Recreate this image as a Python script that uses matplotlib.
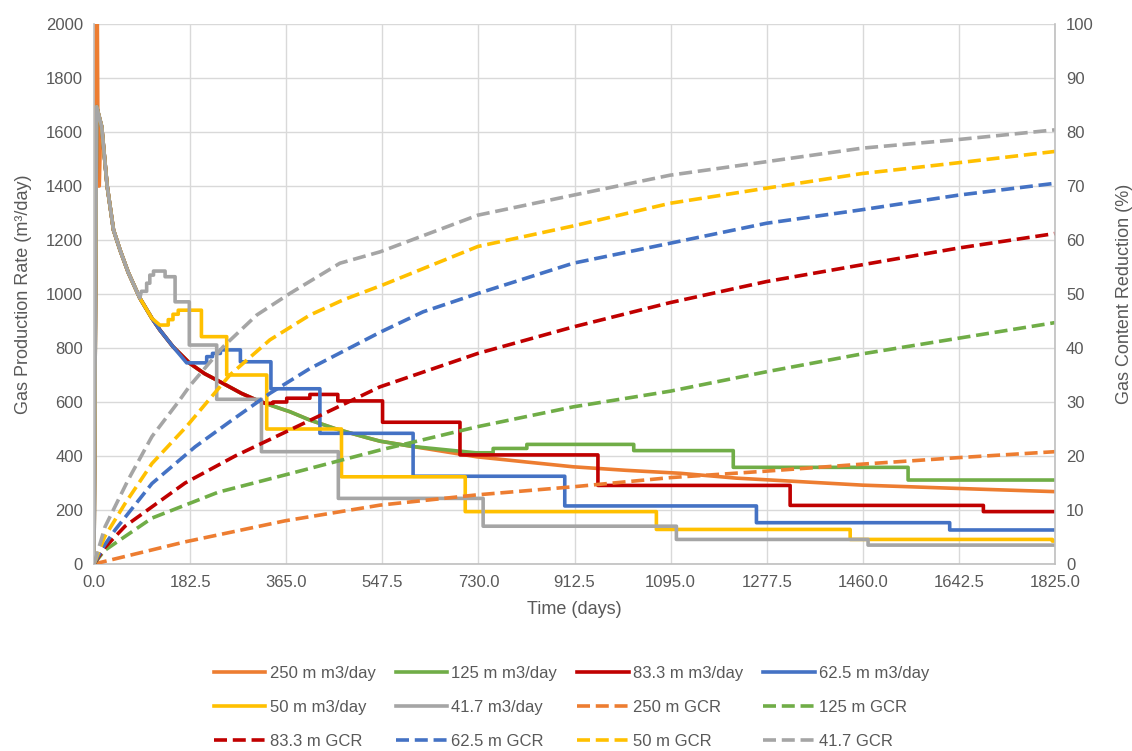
import numpy as np
import matplotlib.pyplot as plt

plt.rcParams["font.family"] = ["Liberation Sans Narrow", "Liberation Sans", "DejaVu Sans"]

TXT = "#595959"
GRID = "#d9d9d9"
AXIS = "#bfbfbf"
C_250, C_125, C_83, C_62, C_50, C_41 = "#ED7D31", "#70AD47", "#C00000", "#4472C4", "#FFC000", "#A5A5A5"

# common early decline shared by all wells (m3/day)
decline_t = [5, 14.6, 25, 37, 50, 65, 87, 110, 125, 150, 182, 210, 245, 280, 309, 340,
             372, 410, 460, 518, 543, 606, 727, 820, 910, 1010, 1113, 1220, 1341, 1460,
             1550, 1638, 1730, 1825]
decline_v = [1694, 1620, 1400, 1237, 1160, 1080, 985, 910, 867, 805, 743, 705, 669, 632,
             607, 585, 564, 533, 500, 468, 455, 435, 397, 378, 360, 347, 336, 318, 305,
             292, 286, 280, 274, 268]

# 250 m: start-up spike before joining the decline
spike_t = [0, 1, 5, 8, 10, 12]
spike_v = [0, 2500, 2500, 1400, 1400, 1560]

# stepped rates after each well leaves the decline (start time, level)
g125_t = [725, 758, 822, 1025, 1214, 1546, 1825]
g125_v = [412, 428, 443, 420, 358, 311, 311]

r83_t = [325, 340, 366, 410, 463, 548, 695, 957, 1322, 1689, 1825]
r83_v = [595, 600, 614, 628, 604, 525, 404, 291, 217, 194, 194]

b62_t = [176, 205, 214, 225, 240, 278, 336, 429, 606, 894, 1258, 1625, 1825]
b62_v = [745, 745, 768, 780, 793, 749, 649, 484, 325, 215, 153, 126, 126]

y50_t = [125, 141, 150, 160, 204, 252, 328, 470, 705, 1068, 1436, 1820, 1825]
y50_v = [885, 905, 925, 940, 842, 700, 500, 323, 194, 128, 91, 85, 85]

k41_t = [90, 100, 106, 113, 135, 154, 181, 233, 318, 464, 739, 1106, 1470, 1825]
k41_v = [1010, 1040, 1070, 1085, 1064, 971, 811, 610, 416, 243, 140, 91, 70, 70]

# gas content reduction (%)
gcr250_t = [0, 173, 363, 543, 727, 910, 1095, 1277, 1460, 1642, 1825]
gcr250_v = [0, 4.1, 8.0, 10.9, 12.8, 14.3, 16.0, 17.2, 18.5, 19.7, 20.8]

gcr125_t = [0, 20, 110, 236, 363, 543, 727, 910, 1094, 1277, 1458, 1641, 1825]
gcr125_v = [0, 2.5, 8.5, 13.3, 16.5, 21.1, 25.4, 29.1, 32.0, 35.6, 38.9, 41.8, 44.7]

gcr83_t = [0, 20, 59, 173, 268, 365, 543, 729, 910, 1094, 1277, 1458, 1641, 1825]
gcr83_v = [0, 3.0, 7.0, 15.0, 20.0, 24.5, 32.8, 39.0, 43.9, 48.4, 52.3, 55.4, 58.5, 61.2]

gcr62_t = [0, 20, 40, 110, 192, 260, 334, 410, 543, 625, 729, 910, 1094, 1277, 1458, 1641, 1825]
gcr62_v = [0, 3.5, 6.3, 14.9, 21.7, 26.5, 31.6, 36.2, 42.9, 46.7, 50.1, 55.7, 59.4, 63.1, 65.6, 68.3, 70.5]

gcr50_t = [0, 20, 59, 110, 176, 258, 334, 410, 473, 549, 729, 910, 1094, 1277, 1458, 1641, 1825]
gcr50_v = [0, 5.0, 11.2, 18.6, 25.5, 35.0, 41.5, 46.1, 48.9, 51.7, 58.8, 62.6, 66.8, 69.6, 72.3, 74.3, 76.4]

gcr41_t = [0, 21, 65, 110, 160, 182, 245, 309, 372, 467, 543, 729, 910, 1094, 1277, 1458, 1641, 1825]
gcr41_v = [0, 6.9, 15.6, 23.6, 30.0, 33.0, 40.2, 46.1, 50.1, 55.7, 57.8, 64.6, 68.3, 72.0, 74.5, 77.0, 78.6, 80.4]


def stepped(step_t, step_v):
    """Decline up to the first step, then a post-style staircase."""
    dt = np.array(decline_t, dtype=float)
    dv = np.array(decline_v, dtype=float)
    keep = dt < step_t[0]
    st = np.repeat(np.asarray(step_t, dtype=float), 2)[1:]
    sv = np.repeat(np.asarray(step_v, dtype=float), 2)[:-1]
    x = np.concatenate([[0], dt[keep], st])
    y = np.concatenate([[0], dv[keep], sv])
    return x, y


fig = plt.figure(figsize=(11.32, 7.51), dpi=100)
ax = fig.add_axes([94 / 1132, 1 - 564 / 751, (1055 - 94) / 1132, (564 - 24) / 751])
ax2 = ax.twinx()

lw = 2.6
dash = (3.6, 1.6)

dt = np.array(decline_t)
keep = dt >= 14.6
x250 = np.concatenate([spike_t, dt[keep]])
y250 = np.concatenate([spike_v, np.array(decline_v)[keep]])

handles = []
handles += ax.plot(x250, y250, color=C_250, lw=lw, label="250 m m3/day")
handles += ax.plot(*stepped(g125_t, g125_v), color=C_125, lw=lw, label="125 m m3/day")
handles += ax.plot(*stepped(r83_t, r83_v), color=C_83, lw=lw, label="83.3 m m3/day")
handles += ax.plot(*stepped(b62_t, b62_v), color=C_62, lw=lw, label="62.5 m m3/day")
handles += ax.plot(*stepped(y50_t, y50_v), color=C_50, lw=lw, label="50 m m3/day")
handles += ax.plot(*stepped(k41_t, k41_v), color=C_41, lw=lw, label="41.7 m3/day")

gcr = [
    (gcr250_t, gcr250_v, C_250, "250 m GCR"),
    (gcr125_t, gcr125_v, C_125, "125 m GCR"),
    (gcr83_t, gcr83_v, C_83, "83.3 m GCR"),
    (gcr62_t, gcr62_v, C_62, "62.5 m GCR"),
    (gcr50_t, gcr50_v, C_50, "50 m GCR"),
    (gcr41_t, gcr41_v, C_41, "41.7 GCR"),
]
for t, v, c, lab in gcr:
    handles += ax2.plot(t, v, color=c, lw=lw, dashes=dash, label=lab)

ax.set_xlim(0, 1825)
ax.set_ylim(0, 2000)
ax2.set_ylim(0, 100)
ax.set_xticks(np.arange(0, 1825.1, 182.5))
ax.set_xticklabels([f"{v:.1f}" for v in np.arange(0, 1825.1, 182.5)])
ax.set_yticks(np.arange(0, 2001, 200))
ax2.set_yticks(np.arange(0, 101, 10))

ax.grid(True, color=GRID, lw=1)
ax.set_axisbelow(True)
for a in (ax, ax2):
    a.tick_params(length=0, labelsize=12, colors=TXT, pad=8)
    for s in a.spines.values():
        s.set_visible(False)
ax.spines["left"].set_visible(True)
ax.spines["bottom"].set_visible(True)
ax2.spines["right"].set_visible(True)
for s in (ax.spines["left"], ax.spines["bottom"], ax2.spines["right"]):
    s.set_color(AXIS)
    s.set_linewidth(1.2)

ax.set_xlabel("Time (days)", fontsize=13, color=TXT, labelpad=8)
ax.set_ylabel("Gas Production Rate (m³/day)", fontsize=13, color=TXT, labelpad=10)
ax2.set_ylabel("Gas Content Reduction (%)", fontsize=13, color=TXT, labelpad=16)

# legend fills column-wise; reorder so rows read like the original
order = [handles[r * 4 + c] for c in range(4) for r in range(3)]
leg = fig.legend(order, [h.get_label() for h in order], loc="upper center",
                 bbox_to_anchor=(0.505, 1 - 651 / 751), ncol=4, frameon=False,
                 fontsize=12, handlelength=3.1, columnspacing=1.2,
                 labelspacing=1.13, handletextpad=0.25)
for txt in leg.get_texts():
    txt.set_color(TXT)

fig.savefig("out.png", dpi=100)
